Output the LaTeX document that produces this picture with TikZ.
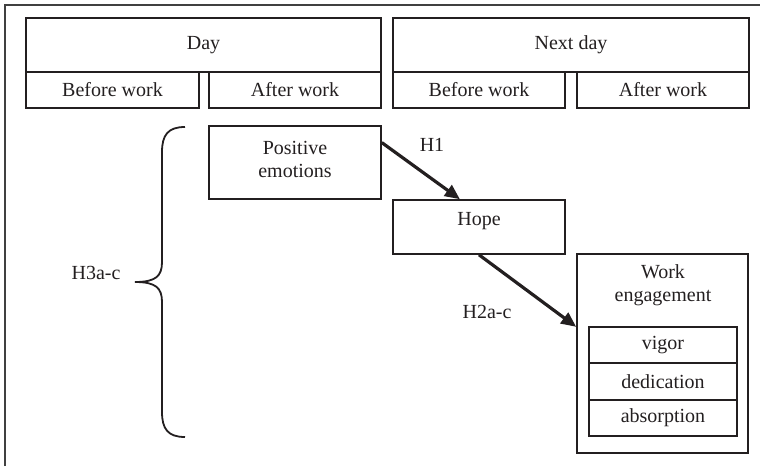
\documentclass[tikz,border=0pt]{standalone}
\usepackage{fontspec}
\setmainfont{Liberation Serif}
\usetikzlibrary{calc,arrows.meta}
\definecolor{ink}{HTML}{231F20}
\tikzset{
  box/.style={draw=ink,line width=1.6pt,rectangle,inner sep=0pt,align=center,font=\fontsize{20}{23}\selectfont,text=ink},
  lbl/.style={inner sep=0pt,font=\fontsize{20}{23}\selectfont,text=ink},
  link/.style={draw=ink,line width=3.2pt,-{Triangle[length=15pt,width=13pt]}},
  frameline/.style={draw=black!75,line width=1.6pt},
  bracepath/.style={draw=ink,line width=1.8pt}
}
\begin{document}
\begin{tikzpicture}[x=1pt,y=-1pt]
\useasboundingbox (0,0) rectangle (760,466);
% frame (top and left edges)
\draw[frameline] (5,466) -- (5,5) -- (760,5);
% time header
\node[box,minimum width=355,minimum height=54] (day) at (203.5,45) {Day};
\node[box,minimum width=173,minimum height=36] (dbw) at (112.5,90) {Before work};
\node[box,minimum width=172,minimum height=36] (daw) at (295,90) {After work};
\node[box,minimum width=356,minimum height=54] (nday) at (571,45) {Next day};
\node[box,minimum width=172,minimum height=36] (nbw) at (479,90) {Before work};
\node[box,minimum width=172,minimum height=36] (naw) at (663,90) {After work};
% model
\node[box,minimum width=172,minimum height=73] (pe) at (295,162.5) {};
\node[lbl,align=center] (petext) at (295,159) {Positive\\emotions};
\node[box,minimum width=172,minimum height=54] (hope) at (479,227) {};
\node[lbl] (hopetext) at (479,221) {Hope};
\node[box,minimum width=171,minimum height=199] (we) at (662.5,353.5) {};
\node[lbl,align=center] (wetext) at (663,285) {Work\\engagement};
\node[box,minimum width=148,minimum height=36] (vig) at (663,345) {vigor};
\node[box,minimum width=148,minimum height=37] (ded) at (663,381.5) {dedication};
\node[box,minimum width=148,minimum height=36] (abs) at (663,418) {absorption};
% arrows
\coordinate (h1s) at ($(pe.north east)!0.233!(pe.south east)$);
\coordinate (h1e) at ($(hope.north west)!0.39!(hope.north east)$);
\draw[link] (h1s) -- (h1e);
\node[lbl] (h1) at (432,145) {H1};
\coordinate (h2e) at ($(we.north west)!0.367!(we.south west)$);
\draw[link] (hope.south) -- (h2e);
\node[lbl] (h2) at (487,312) {H2a-c};
% brace
\draw[bracepath] (185,127) .. controls (168,127) and (162,135) .. (162,152)
  -- (162,262) .. controls (162,276) and (156,282) .. (135,282)
  .. controls (156,282) and (162,288) .. (162,302)
  -- (162,412) .. controls (162,429) and (168,437) .. (185,437);
\node[lbl] (h3) at (96,273) {H3a-c};
\end{tikzpicture}
\end{document}
